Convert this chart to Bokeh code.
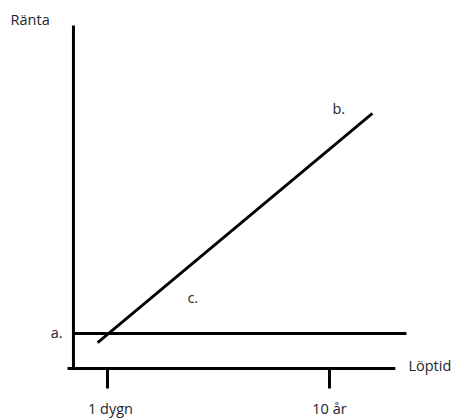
from bokeh.plotting import figure
from bokeh.models import ColumnDataSource, Range1d
from bokeh.core.properties import value
from bokeh.embed import file_html
from bokeh.resources import INLINE

# ---- data (maturity in arbitrary units, rate in arbitrary units) ----
tick_pos = [1, 10]
tick_labels = ["1 dygn", "10 år"]

flat_x = [-0.38, 13.12]      # line a (flat short rate)
flat_y = [1.0, 1.0]

curve_x = [0.6, 11.74]       # rising yield curve (c -> b)
curve_y = [0.74, 7.29]

axis_x_extent = [-0.62, 12.67]
axis_y_extent = [0.0, 9.8]
y_axis_pos = -0.38

point_labels = ["a.", "b.", "c."]
point_label_x = [-0.82, 10.12, 4.24]
point_label_y = [1.03, 7.43, 2.03]

FONT = value("Open Sans")
TXT = "#1e1e30"
FS = "14.5px"

p = figure(width=457, height=418, output_backend="svg", toolbar_location=None,
           x_range=Range1d(-3.338, 15.19), y_range=Range1d(-1.4286, 10.514),
           x_axis_location=None, y_axis_location=None, min_border=0)
p.grid.visible = False
p.outline_line_color = None
p.background_fill_color = "white"
p.border_fill_color = "white"

# axes
p.segment(x0=[axis_x_extent[0]], y0=[0], x1=[axis_x_extent[1]], y1=[0],
          line_color="black", line_width=3)
p.segment(x0=[y_axis_pos], y0=[axis_y_extent[0]], x1=[y_axis_pos], y1=[axis_y_extent[1]],
          line_color="black", line_width=3)
# ticks
p.segment(x0=tick_pos, y0=[0] * len(tick_pos), x1=tick_pos, y1=[-0.57] * len(tick_pos),
          line_color="black", line_width=3)
# tick labels
p.text(x=[t + 0.12 for t in tick_pos][:1] + tick_pos[1:], y=[-1.14] * len(tick_pos),
       text=tick_labels, text_font=FONT,
       text_font_size=FS, text_align="center", text_baseline="middle", text_color=TXT)

# lines
p.line(flat_x, flat_y, line_color="black", line_width=2.8)
p.line(curve_x, curve_y, line_color="black", line_width=2.8)

# labels
src = ColumnDataSource(dict(x=point_label_x, y=point_label_y, t=point_labels,
                            a=["right", "left", "left"]))
p.text(x="x", y="y", text="t", source=src, text_align="a", text_font=FONT,
       text_font_size=FS, text_baseline="middle", text_color=TXT)

p.text(x=[-2.93], y=[9.97], text=["Ränta"], text_font=FONT, text_font_size=FS,
       text_align="left", text_baseline="middle", text_color=TXT)
p.text(x=[13.2], y=[0.086], text=["Löptid"], text_font=FONT, text_font_size=FS,
       text_align="left", text_baseline="middle", text_color=TXT)

open("out.html", "w").write(file_html(p, INLINE))
